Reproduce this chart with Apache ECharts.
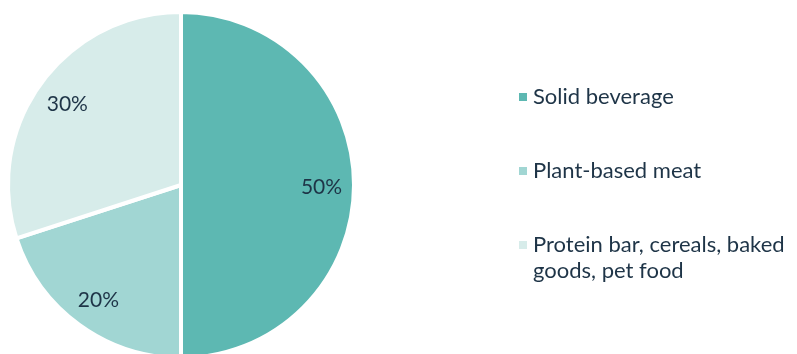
<!DOCTYPE html>
<html><head><meta charset="utf-8">
<script src="https://cdn.jsdelivr.net/npm/echarts@6/dist/echarts.min.js"></script>
<style>html,body{margin:0;padding:0;background:#fff}#c{width:797px;height:354px}</style>
</head><body><div id="c"></div>
<script>
const categories = ['Solid beverage', 'Plant-based meat', 'Protein bar, cereals, baked goods, pet food'];
const legendLabels = ['Solid beverage', 'Plant-based meat', '\nProtein bar, cereals, baked\ngoods, pet food'];
const values = [50, 20, 30];
const colors = ['#5db8b2', '#a1d6d3', '#d7ecea'];

const data = categories.map((c, i) => ({ name: c, value: values[i], itemStyle: { color: colors[i] } }));
const font = 'Lato, "Open Sans", sans-serif';
const textColor = '#1e3447';
const legendTops = [84, 158, 206];

const chart = echarts.init(document.getElementById('c'), null, { renderer: 'canvas' });
chart.setOption({
  animation: false,
  color: colors,
  legend: categories.map((c, i) => ({
    data: [c],
    left: 517,
    top: legendTops[i],
    padding: 0,
    orient: 'vertical',
    icon: 'rect',
    itemWidth: 10,
    itemHeight: 10,
    itemGap: 0,
    textGap: 7,
    selectedMode: false,
    textStyle: { fontFamily: font, fontSize: 22, color: textColor, lineHeight: 26 },
    formatter: function (n) { return legendLabels[categories.indexOf(n)]; }
  })),
  series: [
    {
      type: 'pie',
      center: [181, 185],
      radius: [0, 173],
      startAngle: 90,
      clockwise: true,
      silent: true,
      label: { show: false },
      labelLine: { show: false },
      itemStyle: { borderColor: '#ffffff', borderWidth: 4 },
      data: data
    },
    {
      type: 'pie',
      center: [181, 187],
      radius: [104, 171],
      startAngle: 90,
      clockwise: true,
      silent: true,
      legendHoverLink: false,
      itemStyle: { color: 'rgba(0,0,0,0)' },
      label: {
        show: true,
        position: 'inside',
        formatter: '{c}%',
        fontFamily: font,
        fontSize: 21,
        color: textColor
      },
      labelLine: { show: false },
      data: categories.map((c, i) => ({ name: c + ' ', value: values[i] }))
    }
  ]
});
</script></body></html>
